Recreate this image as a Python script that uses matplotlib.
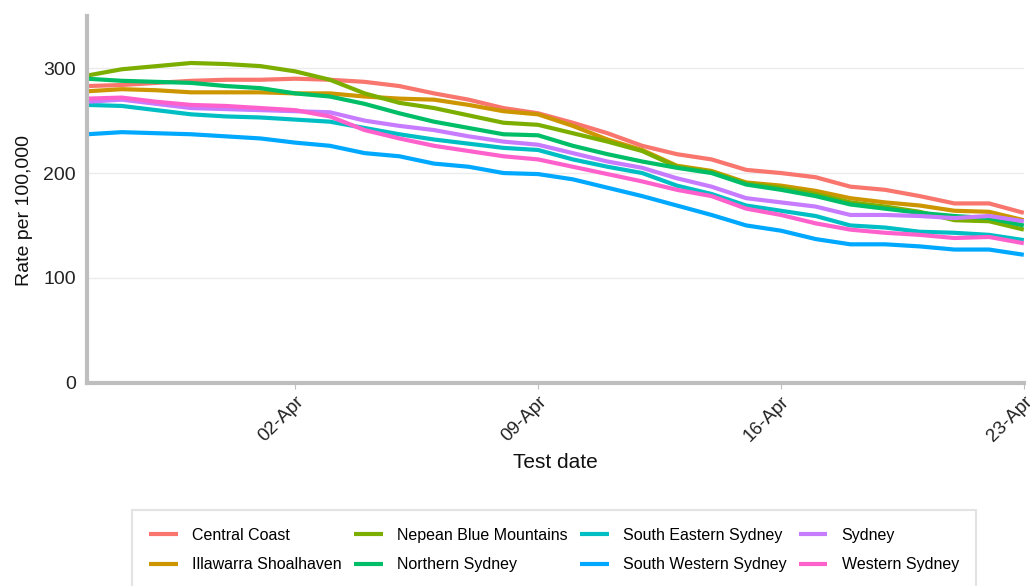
import pandas as pd
import matplotlib
matplotlib.use('Agg')
import matplotlib.pyplot as plt
import matplotlib.dates as mdates

plt.rcParams['font.family'] = ['Liberation Sans', 'DejaVu Sans']

# daily rate per 100,000, 27-Mar to 23-Apr
dates = pd.date_range('2022-03-27', '2022-04-23', freq='D')

central_coast = [283, 284, 286, 288, 289, 289, 290, 289, 287, 283, 276, 270, 262, 257,
                 248, 238, 226, 218, 213, 203, 200, 196, 187, 184, 178, 171, 171, 162]
illawarra = [278, 280, 279, 277, 277, 277, 276, 276, 273, 271, 270, 265, 259, 256,
             245, 232, 222, 207, 202, 191, 188, 183, 176, 172, 169, 164, 163, 155]
nepean = [293, 299, 302, 305, 304, 302, 297, 289, 276, 267, 262, 255, 248, 246,
          238, 230, 221, 206, 201, 190, 186, 180, 172, 168, 163, 155, 154, 146]
northern = [290, 288, 287, 286, 283, 281, 276, 273, 266, 257, 249, 243, 237, 236,
            226, 218, 211, 205, 200, 189, 184, 178, 170, 166, 162, 159, 157, 150]
south_eastern = [265, 264, 260, 256, 254, 253, 251, 249, 243, 237, 232, 228, 224, 222,
                 213, 206, 200, 188, 180, 169, 164, 159, 150, 148, 144, 143, 141, 136]
south_western = [237, 239, 238, 237, 235, 233, 229, 226, 219, 216, 209, 206, 200, 199,
                 194, 186, 178, 169, 160, 150, 145, 137, 132, 132, 130, 127, 127, 122]
sydney = [268, 270, 266, 262, 261, 260, 259, 258, 250, 245, 241, 235, 230, 227,
          219, 211, 205, 195, 187, 176, 172, 168, 160, 160, 159, 157, 159, 154]
western = [271, 272, 268, 265, 264, 262, 260, 254, 241, 233, 226, 221, 216, 213,
           206, 199, 192, 184, 178, 166, 160, 152, 146, 143, 141, 138, 139, 133]

districts = ['Central Coast', 'Illawarra Shoalhaven', 'Nepean Blue Mountains',
             'Northern Sydney', 'South Eastern Sydney', 'South Western Sydney',
             'Sydney', 'Western Sydney']
series = [central_coast, illawarra, nepean, northern, south_eastern,
          south_western, sydney, western]
colors = ['#F8766D', '#CD9600', '#7CAE00', '#00BE67', '#00BFC4', '#00A9FF',
          '#C77CFF', '#FF61CC']

fig = plt.figure(figsize=(10.30, 5.86), dpi=100)
ax = fig.add_axes([0.0845, 0.347, 0.9095, 0.626])

for name, vals, c in zip(districts, series, colors):
    ax.plot(dates, vals, color=c, lw=3, label=name, solid_capstyle='butt')

ax.set_xlim(dates[0], dates[-1])
ax.set_ylim(0, 350)
ax.set_yticks([0, 100, 200, 300])
ax.grid(axis='y', color='#EBEBEB', lw=1)
ax.set_axisbelow(True)

ticks = pd.to_datetime(['2022-04-02', '2022-04-09', '2022-04-16', '2022-04-23'])
ax.set_xticks(ticks)
ax.xaxis.set_major_formatter(mdates.DateFormatter('%d-%b'))
for lab in ax.get_xticklabels():
    lab.set_rotation(45)
    lab.set_ha('right')
    lab.set_rotation_mode('anchor')

for s in ['top', 'right']:
    ax.spines[s].set_visible(False)
for s in ['left', 'bottom']:
    ax.spines[s].set_color('#BEBEBE')
    ax.spines[s].set_linewidth(3)
ax.tick_params(axis='y', length=0, labelsize=14, colors='#222222', pad=8)
ax.tick_params(axis='x', length=4, color='#BEBEBE', labelsize=13.5, colors='#222222')

ax.set_ylabel('Rate per 100,000', fontsize=14, color='#111111')
ax.yaxis.set_label_coords(-0.058, 0.47)
ax.set_xlabel('Test date', fontsize=15, color='#111111', labelpad=6)

leg = fig.legend(loc='upper center', bbox_to_anchor=(0.538, 0.143), ncol=4,
                 fontsize=11.5, frameon=True, fancybox=False, handlelength=1.8,
                 handletextpad=0.9, columnspacing=0.75, labelspacing=0.9,
                 borderpad=1.1, edgecolor='#DDDDDD')
leg.get_frame().set_linewidth(1.5)

fig.savefig('out.png', dpi=100)
